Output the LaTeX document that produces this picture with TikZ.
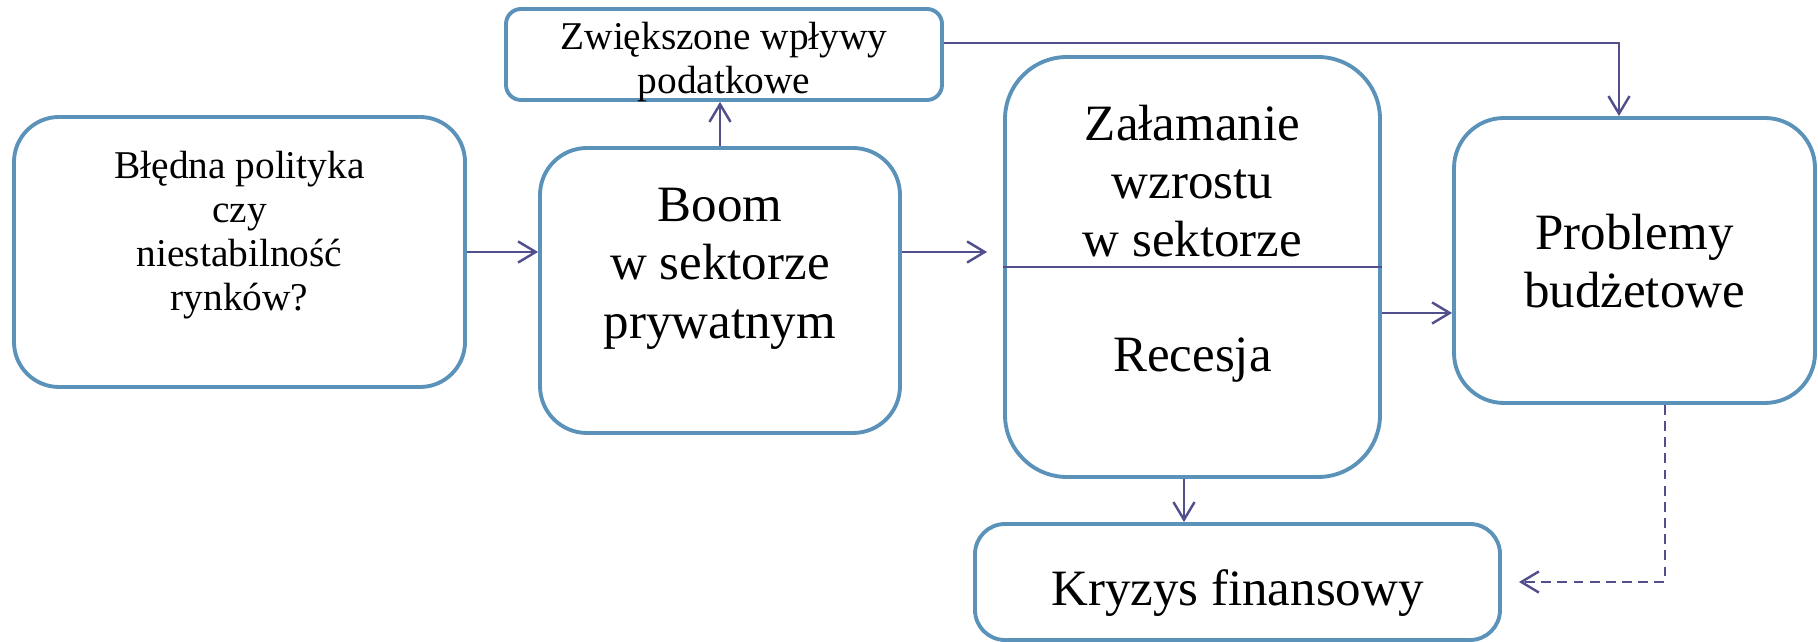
\documentclass[tikz,border=0pt]{standalone}
\usepackage{fontspec}
\setmainfont{Liberation Serif}
\usetikzlibrary{arrows.meta}
\definecolor{boxblue}{RGB}{91,146,185}
\definecolor{arrowblue}{RGB}{82,80,140}

\begin{document}
\begin{tikzpicture}[
		box/.style={draw=boxblue, line width=1.1pt, rounded corners=#1, fill=white, inner sep=0pt},
		box/.default=4.5mm,
		big/.style={align=center, font=\fontsize{14.5}{16.6}\selectfont, inner sep=0pt},
		small/.style={align=center, font=\fontsize{11.2}{12.5}\selectfont, inner sep=0pt},
		arr/.style={draw=arrowblue, line width=0.7pt, -{Straight Barb[length=5pt,width=6pt]}}
	]
		% Frame
		\useasboundingbox (0,0) rectangle (18.18,-6.42);
		
		% Boxes
		\node[box, minimum width=4.51cm, minimum height=2.70cm] (polityka) at (2.395,-2.52) {};
		\node[box=4.7mm, minimum width=3.60cm, minimum height=2.85cm] (boom) at (7.20,-2.905) {};
		\node[box=1.5mm, minimum width=4.36cm, minimum height=0.91cm] (wplywy) at (7.24,-0.545) {};
		\node[box=6.2mm, minimum width=3.75cm, minimum height=4.20cm] (zalamanie) at (11.925,-2.67) {};
		\node[box=5mm, minimum width=3.61cm, minimum height=2.85cm] (budzet) at (16.345,-2.605) {};
		\node[box=3mm, minimum width=5.25cm, minimum height=1.16cm] (kryzys) at (12.375,-5.82) {};
		\draw[arrowblue, line width=0.7pt] (zalamanie.west) -- (zalamanie.east);
		
		% Texts
		\node[small] (politykatxt) at (2.395,-2.35) {Błędna polityka\\czy\\niestabilność\\rynków?};
		\node[big] (boomtxt) at (7.20,-2.685) {Boom\\w sektorze\\prywatnym};
		\node[small] (wplywytxt) at (7.24,-0.62) {Zwiększone wpływy\\podatkowe};
		\node[big] (zalamanietxt) at (11.925,-1.81) {Załamanie\\wzrostu\\w sektorze};
		\node[big] (recesjatxt) at (11.925,-3.60) {Recesja};
		\node[big] (budzettxt) at (16.345,-2.61) {Problemy\\budżetowe};
		\node[big] (kryzystxt) at (12.375,-5.93) {Kryzys finansowy};
		
		% Arrows
		\draw[arr] (polityka.east) -- (polityka.east -| boom.west);
		\draw[arr] (boom.north) -- (boom.north |- wplywy.south);
		\draw[arr] (boom.east |- polityka.east) -- ([xshift=-1.6mm]zalamanie.west |- polityka.east);
		\draw[arr] ([yshift=1.15mm]wplywy.east) -| ([xshift=-1.55mm]budzet.north);
		\draw[arr] ([yshift=-4.6mm]zalamanie.east) -- ([yshift=-4.6mm]zalamanie.east -| budzet.west);
		\draw[arr] ([xshift=-0.85mm]zalamanie.south) -- ([xshift=-0.85mm]zalamanie.south |- kryzys.north);
		\draw[arr, dash pattern=on 2.8pt off 1.8pt] ([xshift=3.05mm]budzet.south) |- ([xshift=1.7mm]kryzys.east);
	\end{tikzpicture}
\end{document}
